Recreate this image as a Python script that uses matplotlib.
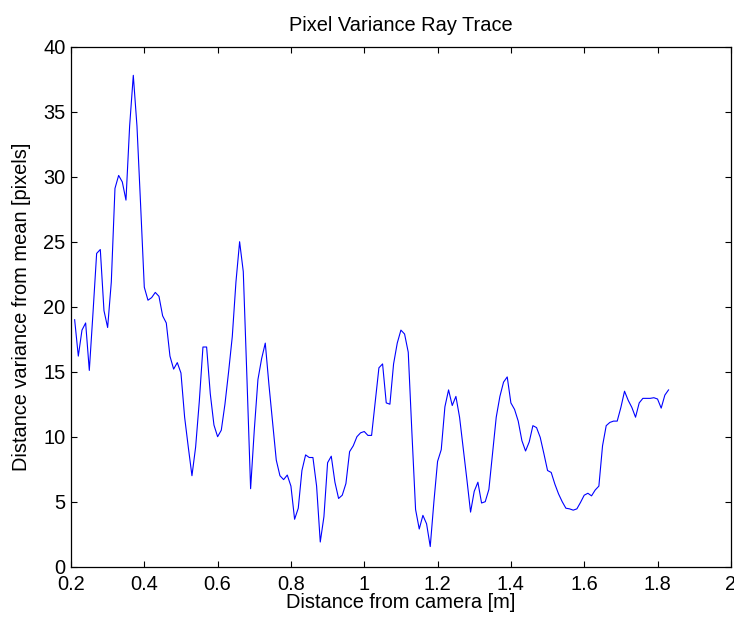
import numpy as np
import matplotlib
matplotlib.use("Agg")
import matplotlib.pyplot as plt

# distance samples, 0.21 .. 1.83 m in 1 cm steps
distance = np.round(np.arange(21, 184) / 100.0, 2)

variance = [
    19.0, 16.2, 18.2, 18.75, 15.1, 19.5, 24.1, 24.4, 19.7, 18.4,
    21.9, 29.1, 30.1, 29.6, 28.2, 33.9, 37.8, 33.9, 27.8, 21.5,
    20.5, 20.7, 21.1, 20.8, 19.3, 18.75, 16.2, 15.2, 15.7, 14.9,
    11.5, 9.2, 7.0, 9.2, 12.7, 16.9, 16.9, 13.3, 10.9, 10.0,
    10.5, 12.5, 15.0, 17.7, 21.9, 25.0, 22.7, 14.5, 6.0, 10.5,
    14.4, 16.0, 17.2, 14.0, 11.1, 8.2, 7.0, 6.7, 7.05, 6.2,
    3.65, 4.5, 7.4, 8.6, 8.4, 8.4, 6.2, 1.9, 3.85, 8.0,
    8.5, 6.5, 5.25, 5.5, 6.4, 8.85, 9.3, 10.0, 10.3, 10.4,
    10.1, 10.1, 12.7, 15.3, 15.6, 12.6, 12.5, 15.6, 17.2, 18.2,
    17.9, 16.5, 10.3, 4.4, 2.9, 3.95, 3.3, 1.55, 5.0, 8.1,
    9.0, 12.3, 13.6, 12.4, 13.1, 11.5, 9.1, 6.7, 4.2, 5.8,
    6.5, 4.9, 5.0, 5.95, 8.7, 11.5, 13.1, 14.2, 14.6, 12.6,
    12.1, 11.2, 9.7, 8.9, 9.6, 10.85, 10.7, 9.95, 8.7, 7.4,
    7.25, 6.35, 5.6, 5.0, 4.5, 4.45, 4.35, 4.45, 4.95, 5.5,
    5.65, 5.45, 5.9, 6.2, 9.3, 10.85, 11.1, 11.2, 11.2, 12.25,
    13.5, 12.8, 12.25, 11.5, 12.6, 12.95, 12.95, 12.95, 13.0, 12.9,
    12.2, 13.2, 13.6,
]

xticks = [0.2, 0.4, 0.6, 0.8, 1.0, 1.2, 1.4, 1.6, 1.8, 2.0]
xticklabels = ["0.2", "0.4", "0.6", "0.8", "1", "1.2", "1.4", "1.6", "1.8", "2"]
yticks = [0, 5, 10, 15, 20, 25, 30, 35, 40]

plt.rcParams["font.family"] = ["Liberation Sans", "DejaVu Sans"]
fs = 14.4

fig = plt.figure(figsize=(7.34, 6.18), dpi=100)
ax = fig.add_axes([0.0967, 0.083, 0.899, 0.8414])

ax.plot(distance, variance, color="#0000ff", linewidth=0.8)

ax.set_xlim(0.2, 2.0)
ax.set_ylim(0, 40)
ax.set_xticks(xticks)
ax.set_xticklabels(xticklabels)
ax.set_yticks(yticks)
ax.tick_params(direction="in", length=4, width=0.8, labelsize=fs,
               top=True, right=True, pad=4)
ax.tick_params(axis="x", pad=6)
for s in ax.spines.values():
    s.set_linewidth(0.9)

ax.set_title("Pixel Variance Ray Trace", fontsize=fs, pad=11)
ax.set_xlabel("Distance from camera [m]", fontsize=fs, labelpad=-1)
ax.set_ylabel("Distance variance from mean [pixels]", fontsize=fs, labelpad=9)

fig.savefig("out.png", dpi=100)
plt.close(fig)
